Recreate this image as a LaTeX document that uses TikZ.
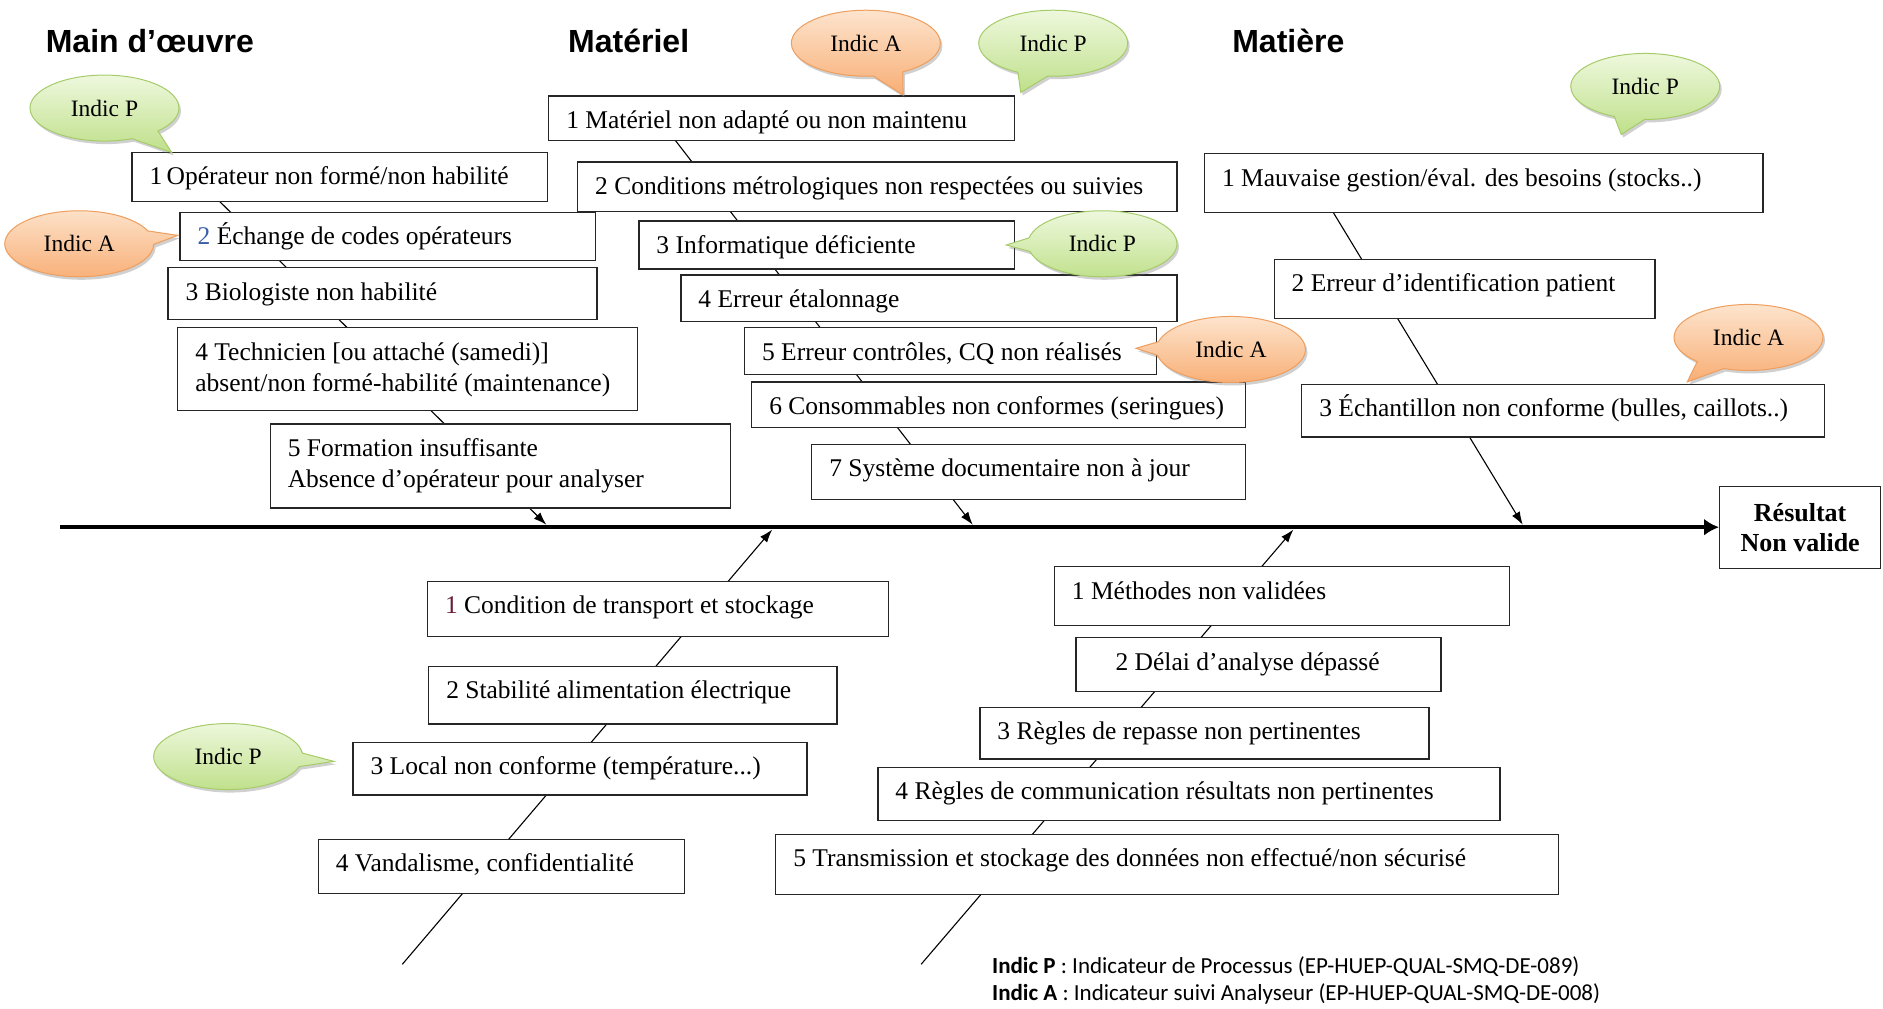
\documentclass[tikz,border=0pt]{standalone}
\usepackage{fontspec}
\setmainfont{Liberation Serif}
\newfontfamily\arialf{Liberation Sans}
\newfontfamily\calf{Carlito}
\usetikzlibrary{arrows.meta,shapes.callouts,shadows,fit}
\definecolor{gfillA}{HTML}{EEF8DD}
\definecolor{gfillB}{HTML}{BFE08A}
\definecolor{gline}{HTML}{A6CC6A}
\definecolor{ofillA}{HTML}{FDE4CD}
\definecolor{ofillB}{HTML}{F8AE75}
\definecolor{oline}{HTML}{EE9E5E}
\definecolor{numblue}{HTML}{3A5FA8}
\definecolor{numred}{HTML}{6A1F35}
\tikzset{
  box/.style={draw=black!85, line width=1.3pt, fill=white, inner sep=0pt},
  lab/.style={anchor=base west, inner sep=0pt, font=\fontsize{25.5pt}{31pt}\selectfont},
  bone/.style={line width=1.1pt, -{Latex[length=13pt,width=9pt]}},
  spine/.style={line width=4.5pt, -{Latex[length=15pt,width=17pt]}},
  bubble/.style={ellipse callout, inner sep=0pt, minimum width=149pt, minimum height=66pt,
     line width=1pt, callout pointer arc=24, font=\fontsize{23.5pt}{28pt}\selectfont,
     drop shadow={shadow xshift=2pt, shadow yshift=-3pt, opacity=0.3, fill=black!60}},
  bubP/.style={bubble, draw=gline, top color=gfillA, bottom color=gfillB},
  bubA/.style={bubble, draw=oline, top color=ofillA, bottom color=ofillB},
  titletxt/.style={anchor=base west, inner sep=0pt, font=\arialf\bfseries\fontsize{32pt}{36pt}\selectfont},
  resbox/.style={draw=black!85, line width=1.3pt, fill=white, minimum width=161pt, minimum height=82pt,
     align=center, inner sep=0pt, font=\bfseries\fontsize{26pt}{30pt}\selectfont},
  legend/.style={anchor=base west, inner sep=0pt, font=\calf\fontsize{23pt}{26pt}\selectfont},
}
\newcommand\fbx[7][18pt]{%
  \node[box, fit={(#3,#4)(#5,#6)}] (#2) {};
  \node[lab] (#2t) at ([shift={(#1,-33pt)}]#2.north west) {#7};}
\newcommand\fbxx[8][18pt]{%
  \node[box, fit={(#3,#4)(#5,#6)}] (#2) {};
  \node[lab] (#2t) at ([shift={(#1,-33pt)}]#2.north west) {#7};
  \node[lab] (#2u) at ([shift={(#1,-64pt)}]#2.north west) {#8};}

\begin{document}
\begin{tikzpicture}[x=1.2009pt, y=-1.2009pt]
\fill[white] (0,0) rectangle (1568,840);
\useasboundingbox (0,0) rectangle (1568,840);

% titles
\node[titletxt] (ttM) at (38,44) {Main d’œuvre};
\node[titletxt] (ttT) at (473,44) {Matériel};
\node[titletxt] (ttR) at (1026,44) {Matière};

% spine
\node[resbox] (res) at (1499,439) {Résultat\\Non valide};
\coordinate (sp0) at (50,439);
\draw[spine] (sp0) -- (res.west);

% bones
\coordinate (mS) at (170,155);  \coordinate (mE) at (455,437);
\coordinate (tS) at (557,110);  \coordinate (tE) at (810,437);
\coordinate (rS) at (1103,165); \coordinate (rE) at (1268,437);
\coordinate (bS) at (335,803);  \coordinate (bE) at (643,441);
\coordinate (cS) at (767,803);  \coordinate (cE) at (1077,441);
\draw[bone] (mS) -- (mE);
\draw[bone] (tS) -- (tE);
\draw[bone] (rS) -- (rE);
\draw[bone] (bS) -- (bE);
\draw[bone] (cS) -- (cE);

% Main d'oeuvre
\fbx{m1}{110}{127}{456}{168}{1\,Opérateur non formé/non habilité}
\fbx{m2}{150}{177}{496}{217}{\textcolor{numblue}{2} Échange de codes opérateurs}
\fbx{m3}{140}{223}{497}{266}{3 Biologiste non habilité}
\fbxx{m4}{148}{273}{531}{342}{4 Technicien [ou attaché (samedi)]}{absent/non formé-habilité (maintenance)}
\fbxx{m5}{225}{353}{608}{423}{5 Formation insuffisante}{Absence d’opérateur pour analyser}

% Materiel
\fbx{t1}{457}{80}{845}{117}{1 Matériel non adapté ou non maintenu}
\fbx{t2}{481}{135}{980}{176}{2 Conditions métrologiques non respectées ou suivies}
\fbx{t3}{532}{184}{845}{224}{3 Informatique déficiente}
\fbx{t4}{567}{229}{980}{268}{4 Erreur étalonnage}
\fbx{t5}{620}{273}{963}{312}{5 Erreur contrôles, CQ non réalisés}
\fbx{t6}{626}{318}{1037}{356}{6 Consommables non conformes (seringues)}
\fbx{t7}{676}{370}{1037}{416}{7 Système documentaire non à jour}

% Matiere
\fbx{r1}{1003}{128}{1468}{177}{1 Mauvaise gestion/éval. des besoins (stocks..)}
\fbx{r2}{1061}{216}{1378}{265}{2 Erreur d’identification patient}
\fbx{r3}{1084}{320}{1519}{364}{3 Échantillon non conforme (bulles, caillots..)}

% lower left
\fbx{b1}{356}{484}{740}{530}{\textcolor{numred}{1} Condition de transport et stockage}
\fbx{b2}{357}{555}{697}{603}{2 Stabilité alimentation électrique}
\fbx{b3}{294}{618}{672}{662}{3 Local non conforme (température...)}
\fbx{b4}{265}{699}{570}{744}{4 Vandalisme, confidentialité}

% lower right
\fbx{c1}{878}{472}{1257}{521}{1 Méthodes non validées}
\fbx[40pt]{c2}{896}{531}{1200}{576}{2 Délai d’analyse dépassé}
\fbx{c3}{816}{589}{1190}{632}{3 Règles de repasse non pertinentes}
\fbx{c4}{731}{639}{1249}{683}{4 Règles de communication résultats non pertinentes}
\fbx{c5}{646}{695}{1298}{745}{5 Transmission et stockage des données non effectué/non sécurisé}

% bubbles
\coordinate (pMP) at (143,127);
\coordinate (pMA) at (148,196);
\coordinate (pTA) at (752,79);
\coordinate (pTP) at (850,77);
\coordinate (pT3) at (838,204);
\coordinate (pT5) at (946,290);
\coordinate (pRP) at (1350,112);
\coordinate (pRA) at (1405,318);
\coordinate (pBP) at (278,634);
\node[bubP, callout absolute pointer={(pMP)}] (iMP) at (87,90) {Indic P};
\node[bubA, callout absolute pointer={(pMA)}] (iMA) at (66,203) {Indic A};
\node[bubA, callout absolute pointer={(pTA)}] (iTA) at (721,36) {Indic A};
\node[bubP, callout absolute pointer={(pTP)}] (iTP) at (877,36) {Indic P};
\node[bubP, callout absolute pointer={(pT3)}] (iT3) at (918,203) {Indic P};
\node[bubA, callout absolute pointer={(pT5)}] (iT5) at (1025,291) {Indic A};
\node[bubP, callout absolute pointer={(pRP)}] (iRP) at (1370,72) {Indic P};
\node[bubA, callout absolute pointer={(pRA)}] (iRA) at (1456,281) {Indic A};
\node[bubP, callout absolute pointer={(pBP)}] (iBP) at (190,630) {Indic P};

% legend
\node[legend] (lg1) at (826,811) {\textbf{Indic P} : Indicateur de Processus (EP-HUEP-QUAL-SMQ-DE-089)};
\node[legend] (lg2) at (826,833) {\textbf{Indic A} : Indicateur suivi Analyseur (EP-HUEP-QUAL-SMQ-DE-008)};
\end{tikzpicture}
\end{document}
